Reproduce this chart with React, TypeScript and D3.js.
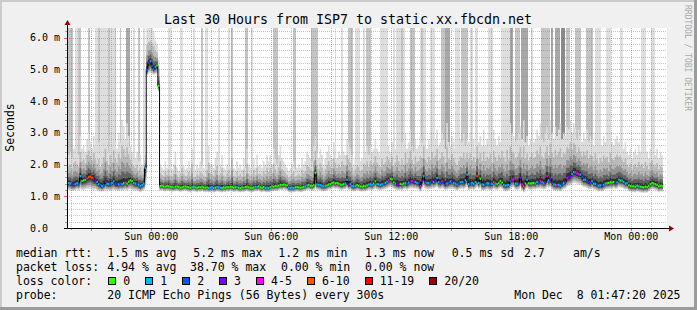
import React from 'react';
import * as d3 from 'd3';

// ---------------- data (5-minute steps, first step Sat 19:50) ----------------
const medianRtt = [
  1.42,1.40,1.37,1.36,1.38,1.42,1.40,1.63,1.48,1.50,
  1.52,1.56,1.60,1.62,1.58,1.55,1.50,1.45,1.38,1.35,
  1.32,1.36,1.45,1.40,1.38,1.40,1.42,1.47,1.39,1.38,
  1.37,1.40,1.38,1.41,1.43,1.40,1.46,1.50,1.48,1.42,
  1.40,1.39,1.37,1.32,1.36,1.40,1.89,4.98,5.20,5.25,
  5.10,5.02,5.08,5.12,4.48,1.32,1.33,1.31,1.30,1.32,
  1.31,1.30,1.29,1.28,1.30,1.31,1.29,1.27,1.28,1.30,
  1.31,1.29,1.28,1.27,1.29,1.30,1.28,1.27,1.29,1.28,
  1.30,1.28,1.27,1.28,1.26,1.27,1.28,1.26,1.27,1.29,
  1.28,1.27,1.26,1.28,1.27,1.29,1.28,1.30,1.29,1.27,
  1.28,1.29,1.27,1.26,1.28,1.27,1.29,1.30,1.28,1.27,
  1.26,1.28,1.30,1.29,1.31,1.28,1.27,1.29,1.26,1.27,
  1.26,1.28,1.31,1.30,1.32,1.31,1.33,1.36,1.35,1.37,
  1.36,1.34,1.27,1.26,1.27,1.26,1.28,1.29,1.28,1.27,
  1.28,1.30,1.31,1.34,1.36,1.33,1.32,1.35,1.73,1.37,
  1.36,1.35,1.32,1.31,1.32,1.34,1.37,1.38,1.42,1.43,
  1.41,1.42,1.40,1.37,1.36,1.38,1.40,1.52,1.36,1.38,
  1.32,1.31,1.32,1.35,1.33,1.31,1.30,1.32,1.31,1.34,
  1.37,1.38,1.36,1.40,1.47,1.39,1.37,1.36,1.38,1.40,
  1.42,1.46,1.50,1.55,1.53,1.44,1.40,1.38,1.36,1.39,
  1.37,1.40,1.42,1.39,1.43,1.46,1.48,1.44,1.45,1.42,
  1.40,1.32,1.48,1.63,1.45,1.42,1.41,1.43,1.48,1.45,
  1.50,1.57,1.44,1.42,1.47,1.44,1.38,1.40,1.42,1.46,
  1.47,1.42,1.40,1.37,1.40,1.44,1.45,1.42,1.50,1.68,
  1.38,1.40,1.42,1.39,1.45,1.63,1.42,1.55,1.37,1.36,
  1.38,1.41,1.40,1.37,1.39,1.44,1.40,1.38,1.42,1.48,
  1.43,1.36,1.33,1.34,1.35,1.47,1.52,1.53,1.40,1.39,
  1.41,1.58,1.37,1.31,1.40,1.52,1.41,1.40,1.41,1.42,
  1.40,1.45,1.43,1.47,1.44,1.41,1.43,1.63,1.50,1.55,
  1.42,1.37,1.36,1.35,1.36,1.33,1.38,1.42,1.45,1.57,
  1.60,1.63,1.70,1.76,1.75,1.72,1.70,1.68,1.60,1.52,
  1.52,1.48,1.44,1.42,1.47,1.40,1.39,1.36,1.33,1.34,
  1.33,1.36,1.40,1.41,1.42,1.44,1.43,1.45,1.42,1.44,
  1.52,1.50,1.49,1.45,1.40,1.41,1.34,1.32,1.31,1.31,
  1.30,1.33,1.31,1.30,1.29,1.28,1.30,1.29,1.33,1.38,
  1.42,1.40,1.38,1.36,1.31,1.33,1.32,
];

const pingLoss = [
  1,1,3,2,1,1,2,1,0,0, 0,4,6,7,6,3,3,1,1,2, 1,2,3,1,1,2,1,1,2,3, 1,2,1,0,4,0,0,0,0,1,
  1,2,1,1,1,1,1,2,3,1, 2,2,1,0,0,0,0,0,0,0, 0,0,0,1,0,0,0,0,0,0, 0,0,0,0,1,0,0,0,0,0,
  0,0,0,0,1,1,1,1,0,1, 1,1,0,0,0,0,0,0,0,0, 0,1,0,0,0,1,0,0,0,0, 0,0,1,1,0,0,0,0,1,1,
  1,0,0,0,0,0,0,0,0,0, 0,0,1,1,1,1,0,0,0,0, 0,0,1,1,0,0,0,0,0,1, 1,1,1,1,1,0,0,0,0,0,
  0,0,0,0,0,0,1,1,3,1, 1,1,1,0,0,0,0,0,0,0, 1,1,1,0,0,1,1,1,1,2, 1,1,4,0,0,0,1,3,3,0,
  0,0,1,2,1,3,4,3,1,1, 2,4,3,1,2,1,1,2,3,1, 3,1,1,2,4,3,2,1,2,1, 3,1,1,1,2,1,1,2,1,1,
  1,2,1,1,1,7,1,0,1,1, 2,1,1,2,1,6,1,0,0,0, 0,1,1,1,1,2,4,4,1,1, 3,3,4,7,0,1,0,0,0,0,
  1,1,2,4,1,1,3,4,1,3, 2,1,1,4,1,1,2,1,3,4, 3,3,1,1,4,4,4,1,2,1, 1,2,3,2,1,1,1,2,1,1,
  3,1,1,0,0,0,0,0,3,1, 1,0,1,1,1,1,0,0,0,0, 0,0,1,0,0,0,0,0,0,0, 0,0,0,0,0,0,0,
];

const smokeLow = [
  1.20,1.18,1.16,1.17,1.19,1.21,1.18,1.22,1.20,1.19,
  1.21,1.23,1.22,1.24,1.20,1.19,1.21,1.18,1.16,1.15,
  1.14,1.16,1.19,1.17,1.18,1.16,1.19,1.20,1.17,1.18,
  1.16,1.19,1.17,1.18,1.20,1.18,1.21,1.22,1.20,1.19,
  1.18,1.17,1.15,1.12,1.16,1.18,1.30,4.80,4.85,4.88,
  4.86,4.82,4.84,4.86,4.30,1.17,1.18,1.16,1.15,1.17,
  1.16,1.15,1.14,1.15,1.16,1.17,1.15,1.14,1.15,1.16,
  1.17,1.15,1.14,1.13,1.15,1.16,1.14,1.13,1.15,1.14,
  1.16,1.14,1.13,1.14,1.12,1.13,1.14,1.12,1.13,1.15,
  1.14,1.13,1.12,1.14,1.13,1.15,1.14,1.16,1.15,1.13,
  1.14,1.15,1.13,1.12,1.14,1.13,1.15,1.16,1.14,1.13,
  1.12,1.14,1.16,1.15,1.17,1.14,1.13,1.15,1.12,1.13,
  1.12,1.14,1.16,1.15,1.17,1.16,1.18,1.20,1.19,1.21,
  1.20,1.18,1.13,1.12,1.13,1.12,1.14,1.15,1.14,1.13,
  1.14,1.16,1.17,1.19,1.20,1.18,1.17,1.19,1.22,1.20,
  1.19,1.18,1.16,1.15,1.16,1.18,1.20,1.21,1.24,1.25,
  1.23,1.24,1.22,1.20,1.19,1.21,1.22,1.25,1.19,1.21,
  1.16,1.15,1.16,1.18,1.17,1.15,1.14,1.16,1.15,1.17,
  1.19,1.20,1.18,1.21,1.24,1.21,1.19,1.18,1.20,1.21,
  1.22,1.24,1.26,1.28,1.26,1.23,1.21,1.19,1.18,1.20,
  1.18,1.21,1.22,1.20,1.23,1.25,1.26,1.23,1.24,1.22,
  1.21,1.14,1.25,1.30,1.24,1.22,1.21,1.23,1.25,1.24,
  1.26,1.28,1.23,1.22,1.25,1.23,1.19,1.21,1.22,1.24,
  1.25,1.22,1.21,1.18,1.21,1.23,1.24,1.22,1.25,1.30,
  1.19,1.21,1.22,1.20,1.24,1.28,1.22,1.26,1.18,1.17,
  1.19,1.21,1.20,1.18,1.20,1.23,1.21,1.19,1.22,1.25,
  1.23,1.18,1.15,1.16,1.17,1.24,1.27,1.28,1.21,1.20,
  1.21,1.28,1.18,1.12,1.21,1.26,1.21,1.20,1.21,1.22,
  1.21,1.24,1.23,1.25,1.23,1.21,1.23,1.30,1.26,1.28,
  1.22,1.18,1.17,1.16,1.17,1.15,1.19,1.22,1.24,1.30,
  1.32,1.34,1.38,1.42,1.41,1.39,1.37,1.36,1.32,1.28,
  1.28,1.26,1.23,1.22,1.25,1.21,1.20,1.18,1.15,1.16,
  1.15,1.18,1.21,1.22,1.22,1.24,1.23,1.25,1.22,1.24,
  1.28,1.27,1.26,1.24,1.21,1.22,1.16,1.14,1.13,1.13,
  1.12,1.15,1.13,1.12,1.11,1.10,1.12,1.11,1.15,1.19,
  1.22,1.21,1.19,1.18,1.13,1.15,1.14,
];

const smokeHigh = [
  2.3,2.4,2.2,2.5,2.6,2.4,2.3,2.9,2.5,2.6,
  2.4,2.8,3.0,2.7,2.5,2.9,2.6,2.4,2.7,2.3,
  2.5,2.8,3.2,2.6,2.4,2.9,2.5,3.1,2.7,2.5,
  3.0,2.7,3.4,3.2,2.8,3.3,2.9,2.6,2.4,2.3,
  2.2,2.4,2.1,2.3,2.0,2.2,2.3,6.3,6.3,6.3,
  6.3,6.2,5.9,5.8,5.3,2.0,1.9,1.85,2.1,1.9,
  2.2,1.9,1.85,2.0,2.4,1.9,1.8,2.0,2.3,1.95,
  1.85,1.9,2.1,1.9,2.5,1.8,1.85,2.0,1.9,2.1,
  2.0,1.9,1.85,2.2,2.6,2.0,2.0,1.9,2.2,2.4,
  1.9,2.0,2.3,1.9,1.85,2.0,2.2,1.9,2.8,1.9,
  1.85,2.1,1.9,2.0,1.85,2.2,1.9,2.5,2.0,1.9,
  2.0,2.2,1.9,2.3,1.95,2.0,1.9,2.1,2.0,2.3,
  2.1,2.3,2.0,2.5,2.2,2.0,2.3,2.6,2.2,2.1,
  2.0,1.9,1.8,1.9,2.0,2.1,1.85,1.9,2.0,1.9,
  2.2,2.0,2.1,2.4,2.3,2.2,2.1,2.6,2.9,2.4,
  2.2,2.5,2.3,2.0,2.2,2.4,2.6,2.3,2.2,2.7,
  2.5,2.2,2.4,2.3,2.6,2.4,2.3,2.8,2.7,2.5,
  2.3,2.0,2.2,2.4,2.3,2.1,2.2,2.5,2.4,2.6,
  2.3,2.6,2.4,2.5,2.8,2.5,2.4,2.3,2.7,2.4,
  2.5,2.8,2.6,2.4,2.7,2.3,2.5,2.9,2.6,2.4,
  2.7,2.4,3.0,2.5,2.7,3.1,2.6,2.4,2.8,2.5,
  2.6,2.9,2.7,3.2,2.6,2.5,2.8,2.6,3.0,2.7,
  2.8,3.1,2.6,2.7,3.0,2.8,2.5,3.3,2.7,2.6,
  2.9,2.7,2.5,2.4,2.6,2.8,2.7,3.0,2.6,2.8,
  2.7,3.0,2.6,2.8,2.5,3.2,2.7,2.9,2.6,3.1,
  2.6,2.8,2.7,3.0,2.5,3.1,2.8,2.6,2.9,2.7,
  3.1,2.8,2.6,3.2,2.7,3.3,3.0,2.9,2.7,2.8,
  3.0,3.2,2.8,3.4,2.7,2.9,2.6,2.8,3.0,2.7,
  2.8,3.1,2.9,3.3,2.8,2.7,3.0,3.2,2.8,3.4,
  3.0,2.8,3.2,2.9,3.1,3.3,2.8,3.0,2.9,3.2,
  3.1,3.4,3.0,3.3,3.2,2.8,3.1,2.9,2.7,3.0,
  2.8,3.1,2.7,2.9,2.8,2.6,3.0,2.7,2.5,2.8,
  2.6,2.9,2.7,2.8,2.5,3.0,2.7,2.6,2.8,2.9,
  2.7,2.8,2.6,2.5,2.7,2.4,2.3,2.5,2.2,2.4,
  2.5,2.3,2.6,2.4,2.5,2.3,2.6,2.4,2.2,2.5,
  2.6,2.4,2.3,2.5,2.2,2.4,2.3,
];

// steps where some pings went off the top of the graph: first step, last step, shade level
const barStart = [0,4,6,12,16,18,24,27,28,31,35,39,42,45,60,67,75,80,82,90,96,98,106,110,123,135,146,160,164,168,172,177,179,187,195,197,200,205,211,212,217,224,226,232,236,241,244,252,260,265,268,272,278,284,290,292,296,299,304,311,316,323,331,344,350];
const barEnd   = [2,5,7,12,26,18,24,27,28,31,36,39,42,45,61,68,75,80,83,90,96,98,107,110,125,136,149,160,164,170,174,177,181,191,195,201,200,207,214,212,219,225,228,234,239,242,245,254,264,266,270,275,278,288,290,294,297,300,307,314,319,325,332,346,351];
const barLevel = [2,1,2,2,1,2,2,1,2,2,3,1,2,1,1,1,1,2,1,1,1,2,2,1,2,2,2,1,1,2,1,1,2,1,1,1,2,2,1,2,1,2,3,1,2,1,1,1,1,3,2,3,1,2,3,3,4,2,2,2,1,1,1,1,1];

const yTickValues = [0, 1, 2, 3, 4, 5, 6];
const yTickLabels = ['0.0', '1.0 m', '2.0 m', '3.0 m', '4.0 m', '5.0 m', '6.0 m'];
const xTickLabels = ['Sun 00:00', 'Sun 06:00', 'Sun 12:00', 'Sun 18:00', 'Mon 00:00'];

const lossColors = ['#26ff00', '#00b8ff', '#0059ff', '#7e00ff', '#ff00ff', '#ff5500', '#ff0000', '#a10000'];
const lossLabels = ['0', '1', '2', '3', '4-5', '6-10', '11-19', '20/20'];

const titleText = 'Last 30 Hours from ISP7 to static.xx.fbcdn.net';
const rttLegend = ['median rtt:', '1.5 ms avg', '5.2 ms max', '1.2 ms min', '1.3 ms now', '0.5 ms sd', '2.7', 'am/s'];
const lossLegend = ['packet loss:', '4.94 % avg', '38.70 % max', '0.00 % min', '0.00 % now'];
const probeLegend = ['probe:', '20 ICMP Echo Pings (56 Bytes) every 300s', 'Mon Dec  8 01:47:20 2025'];

// ---------------------------------------------------------------------------
const MONO = '"DejaVu Sans Mono", monospace';

function lossClass(n: number) {
  if (n <= 3) return n;
  if (n <= 5) return 4;
  if (n <= 10) return 5;
  if (n <= 19) return 6;
  return 7;
}

export default function App() {
  const W = 697, H = 310;
  const L = 67, R = 667, T = 28, B = 228;
  const t0 = Date.UTC(2025, 11, 6, 19, 47, 20);
  const t1 = Date.UTC(2025, 11, 8, 1, 47, 20);
  const firstStep = Date.UTC(2025, 11, 6, 19, 50, 0);
  const STEP = 300000;
  const YMAX = 6.3;

  const x = d3.scaleUtc().domain([new Date(t0), new Date(t1)]).range([L, R]);
  const y = d3.scaleLinear().domain([0, YMAX]).range([B, T]);
  const N = medianRtt.length;
  const sx = (i: number) => x(new Date(firstStep + i * STEP));
  const get = (arr: number[], i: number) => arr[Math.max(0, Math.min(i, arr.length - 1))];
  const idx = d3.range(N + 1);

  const layers = [
    { fl: 1.0, fh: 1.0, c: '#dcdcdc' },
    { fl: 0.85, fh: 0.6, c: '#bababa' },
    { fl: 0.65, fh: 0.35, c: '#939393' },
    { fl: 0.45, fh: 0.2, c: '#616161' },
    { fl: 0.25, fh: 0.09, c: '#2e2e2e' },
  ];
  const areaFor = (fl: number, fh: number) =>
    d3.area<number>()
      .curve(d3.curveStepAfter)
      .x((i) => sx(i))
      .y0((i) => {
        const m = get(medianRtt, i);
        return y(m - fl * (m - get(smokeLow, i)));
      })
      .y1((i) => {
        const m = get(medianRtt, i);
        return y(Math.min(YMAX, m + fh * (get(smokeHigh, i) - m)));
      });

  const medLine = d3.line<number>().curve(d3.curveStepAfter).x((i) => sx(i)).y((i) => y(get(medianRtt, i)));

  const barShades = ['#ffffff', '#dedede', '#c4c4c4', '#a8a8a8', '#8a8a8a'];

  const hours = d3.utcHour.range(new Date(t0), new Date(t1));
  const minorHours = hours.filter((h) => h.getUTCHours() % 3 !== 0);
  const majorHours = hours.filter((h) => h.getUTCHours() % 3 === 0);
  const labelHours = hours.filter((h) => h.getUTCHours() % 6 === 0);
  const minorY = d3.range(1, 32).filter((k) => k % 5 !== 0).map((k) => k / 5).filter((v) => v <= 6.2);

  const px = (v: number) => Math.round(v) + 0.5;
  const minorStroke = 'rgba(130,130,130,0.45)';
  const majorStroke = 'rgba(230,50,50,0.45)';

  const rttX = [16, 107.3, 193.3, 278.3, 365, 451.7, 524, 573];
  const lossX = [16, 107.3, 190, 281, 365];
  const lineY = [257.3, 271.3, 285.3, 299.3];
  const charW = 6.94;

  const swatchX: number[] = [];
  {
    let cx = 108.3;
    lossLabels.forEach((lab) => {
      swatchX.push(cx);
      cx += 15 + lab.length * charW + 15;
    });
  }

  const legendFont = { fontFamily: MONO, fontSize: 11.5, fill: '#000', whiteSpace: 'pre' as const };

  return (
    <svg width={W} height={H} viewBox={`0 0 ${W} ${H}`}
      style={{ position: 'absolute', left: 0, top: 0, display: 'block' }}>
      {/* background and frame shades */}
      <rect x={0} y={0} width={W} height={H} fill="#f0f0f0" />
      <rect x={0} y={0} width={W} height={2} fill="#cbcbcb" />
      <rect x={0} y={0} width={2} height={H} fill="#cbcbcb" />
      <rect x={0} y={H - 3} width={W} height={3} fill="#9b9b9b" />
      <rect x={W - 3} y={0} width={3} height={H} fill="#9b9b9b" />

      {/* canvas */}
      <rect x={L} y={T} width={R - L} height={B - T} fill="#ffffff" />

      {/* bars of pings beyond the top */}
      <g shapeRendering="crispEdges">
        {barStart.map((s, k) => {
          const x0 = sx(s);
          const x1 = sx(barEnd[k] + 1);
          return (
            <rect key={k} x={x0} y={T} width={x1 - x0}
              height={y(get(medianRtt, s)) - T} fill={barShades[barLevel[k]]} />
          );
        })}
      </g>

      {/* smoke */}
      {layers.map((ly, k) => (
        <path key={k} d={areaFor(ly.fl, ly.fh)(idx) || ''} fill={ly.c} />
      ))}

      {/* grid */}
      <g strokeWidth={1} strokeDasharray="1,1" fill="none">
        {minorY.map((v, k) => (
          <line key={'my' + k} x1={L} x2={R} y1={px(y(v))} y2={px(y(v))} stroke={minorStroke} />
        ))}
        {minorHours.map((h, k) => (
          <line key={'mx' + k} x1={px(x(h))} x2={px(x(h))} y1={T} y2={B} stroke={minorStroke} />
        ))}
        {yTickValues.filter((v) => v > 0).map((v, k) => (
          <line key={'My' + k} x1={L} x2={R} y1={px(y(v))} y2={px(y(v))} stroke={majorStroke} />
        ))}
        {majorHours.map((h, k) => (
          <line key={'Mx' + k} x1={px(x(h))} x2={px(x(h))} y1={T} y2={B} stroke={majorStroke} />
        ))}
      </g>

      {/* ticks */}
      <g strokeWidth={1}>
        {minorHours.map((h, k) => (
          <line key={'tx' + k} x1={px(x(h))} x2={px(x(h))} y1={B} y2={B + 2} stroke="#a0a0a0" />
        ))}
        {majorHours.map((h, k) => (
          <line key={'TX' + k} x1={px(x(h))} x2={px(x(h))} y1={B} y2={B + 3} stroke="#e06060" />
        ))}
        {minorY.map((v, k) => (
          <line key={'ty' + k} x1={L - 2} x2={L} y1={px(y(v))} y2={px(y(v))} stroke="#a0a0a0" />
        ))}
        {yTickValues.map((v, k) => (
          <line key={'TY' + k} x1={L - 3} x2={L} y1={px(y(v))} y2={px(y(v))} stroke="#e06060" />
        ))}
      </g>

      {/* median line */}
      <path d={medLine(idx) || ''} fill="none" stroke="#000" strokeWidth={1} />
      {medianRtt.map((m, i) => (
        <rect key={'md' + i} x={sx(i)} y={y(m) - 1.1} width={sx(i + 1) - sx(i)} height={2.2}
          fill={lossColors[lossClass(get(pingLoss, i))]} />
      ))}

      {/* axes */}
      <line x1={px(L)} x2={px(L)} y1={B + 1} y2={T - 4} stroke="#000" strokeWidth={1} />
      <line x1={L - 3} x2={R + 3} y1={px(B)} y2={px(B)} stroke="#000" strokeWidth={1} />
      <path d={`M${px(L) - 3},${T - 3} L${px(L) + 3},${T - 3} L${px(L)},${T - 8} Z`} fill="#9a0000" />
      <path d={`M${R + 2},${px(B) - 3} L${R + 2},${px(B) + 3} L${R + 7},${px(B)} Z`} fill="#9a0000" />

      {/* y labels */}
      {yTickValues.map((v, k) => (
        <text key={'yl' + k} x={30} y={y(v) + 3.5} fontFamily={MONO} fontSize={10} fill="#000"
          style={{ whiteSpace: 'pre' }}>{yTickLabels[k]}</text>
      ))}
      {/* x labels */}
      {labelHours.map((h, k) => (
        <text key={'xl' + k} x={x(h)} y={240.3} textAnchor="middle" fontFamily={MONO} fontSize={10} fill="#000">
          {xTickLabels[k]}
        </text>
      ))}

      {/* axis title */}
      <text transform="translate(14,127.5) rotate(-90)" textAnchor="middle" fontFamily={MONO} fontSize={11.5} fill="#000">
        Seconds
      </text>

      {/* title */}
      <text x={348} y={24} textAnchor="middle" fontFamily={MONO} fontSize={13.3} fill="#000">{titleText}</text>

      {/* watermark */}
      <text transform="translate(684.5,5) rotate(90)" fontFamily={MONO} fontSize={8} fill="#a8a8a8">
        RRDTOOL / TOBI OETIKER
      </text>

      {/* legend */}
      {rttLegend.map((s, k) => (
        <text key={'r' + k} x={rttX[k]} y={lineY[0]} style={legendFont}>{s}</text>
      ))}
      {lossLegend.map((s, k) => (
        <text key={'l' + k} x={lossX[k]} y={lineY[1]} style={legendFont}>{s}</text>
      ))}
      <text x={16} y={lineY[2]} style={legendFont}>loss color:</text>
      {lossLabels.map((lab, k) => (
        <g key={'lc' + k}>
          <rect x={Math.round(swatchX[k]) + 0.5} y={277.5} width={7} height={7} fill={lossColors[k]} stroke="#000" strokeWidth={1} />
          <text x={swatchX[k] + 15} y={lineY[2]} style={legendFont}>{lab}</text>
        </g>
      ))}
      <text x={16} y={lineY[3]} style={legendFont}>{probeLegend[0]}</text>
      <text x={107.3} y={lineY[3]} style={legendFont}>{probeLegend[1]}</text>
      <text x={680.5} y={lineY[3]} textAnchor="end" style={legendFont}>{probeLegend[2]}</text>
    </svg>
  );
}
